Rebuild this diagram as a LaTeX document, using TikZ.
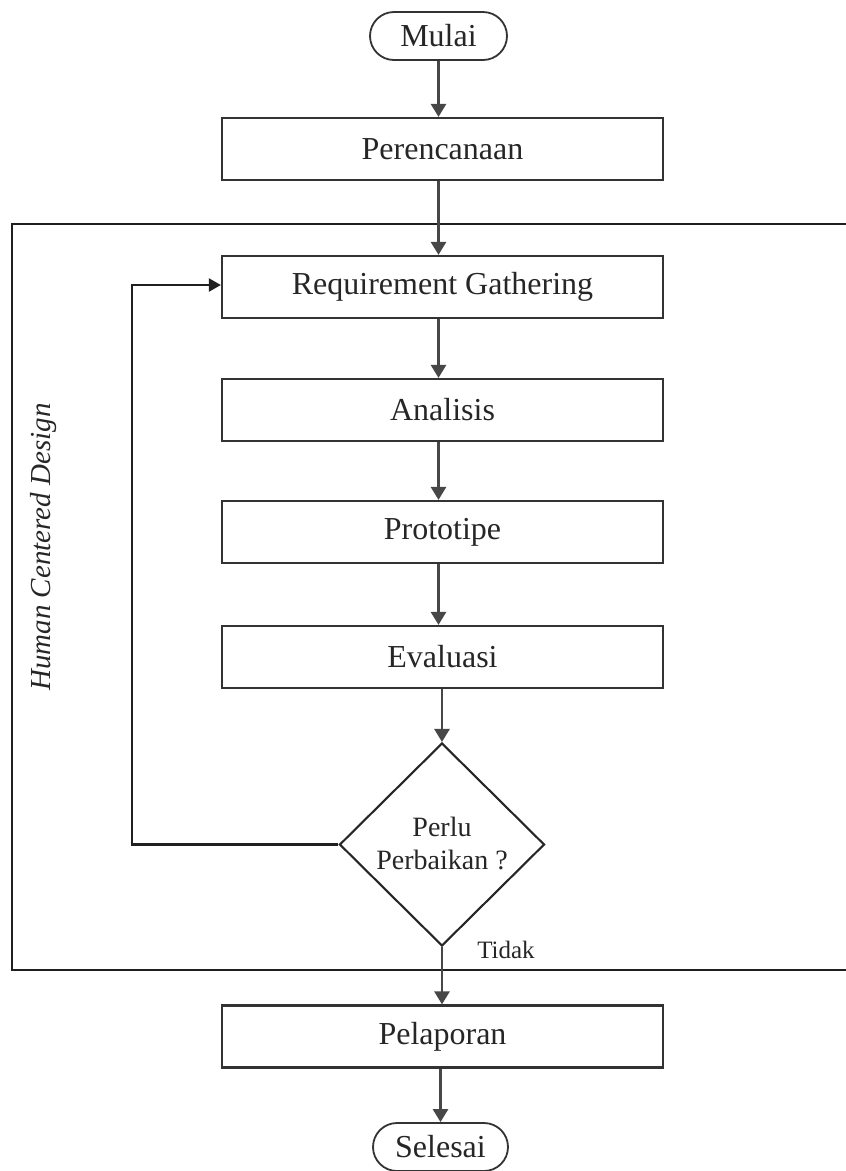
\documentclass[tikz,border=0pt]{standalone}
\usepackage{fontspec}
\setmainfont{Liberation Serif}
\usetikzlibrary{shapes.geometric,arrows.meta}
\begin{document}
\begin{tikzpicture}[x=1pt,y=-1pt,
  every node/.style={font=\fontsize{32}{38}\selectfont, text=black!85},
  procbox/.style={draw=black!80, line width=2.2pt, minimum width=441pt, minimum height=62pt, inner sep=0pt},
  termbox/.style={draw=black!80, line width=1.8pt, rounded corners=24pt, minimum width=137pt, minimum height=48pt, inner sep=0pt},
  decision/.style={diamond, draw=black!85, line width=2.1pt, minimum width=205pt, minimum height=203pt, inner sep=0pt},
  flow/.style={draw=black!72, line width=2.7pt, -{Triangle[width=15pt,length=13pt]}},
  loopline/.style={draw=black!88, line width=2.2pt, -{Triangle[width=13pt,length=12pt]}},
  frame/.style={draw=black!88, line width=2.4pt}
]
\useasboundingbox (0,0) rectangle (846,1171);

% process steps
\node[termbox] (start) at (438.5,36) {Mulai};
\node[procbox] (plan) at (442.5,149) {Perencanaan};
\node[procbox] (req) at (442.5,287) {Requirement Gathering};
\node[procbox] (ana) at (442.5,410) {Analisis};
\node[procbox] (proto) at (442.5,532) {Prototipe};
\node[procbox] (eval) at (442.5,657) {Evaluasi};
\node[decision] (dec) at (442,844.5) {};
\node[font=\fontsize{28}{33}\selectfont, align=center] (dectext) at (442,843) {Perlu\\Perbaikan ?};
\node[procbox] (report) at (442.5,1036.5) {Pelaporan};
\node[termbox, minimum width=135pt] (finish) at (440.5,1147) {Selesai};
\node[font=\fontsize{25}{30}\selectfont] (no) at (506,950) {Tidak};

% Human Centered Design frame
\draw[frame] (850,224) -- (12,224) -- (12,970) -- (850,970);
\node[font=\itshape\fontsize{29}{35}\selectfont, rotate=90] (hcd) at (44,547) {Human Centered Design};

% connectors
\draw[flow] (start.south) -- (start.south |- plan.north);
\draw[flow] (start.south |- plan.south) -- (start.south |- req.north);
\draw[flow] (start.south |- req.south) -- (start.south |- ana.north);
\draw[flow] (start.south |- ana.south) -- (start.south |- proto.north);
\draw[flow] (start.south |- proto.south) -- (start.south |- eval.north);
\draw[flow] (dec.north |- eval.south) -- (dec.north);
\draw[flow] (dec.south) -- (dec.south |- report.north);
\draw[flow] (finish.north |- report.south) -- (finish.north);

% feedback loop
\coordinate (back) at (132,285);
\draw[loopline] (dec.west) -| (back) -- (back -| req.west);
\end{tikzpicture}
\end{document}
